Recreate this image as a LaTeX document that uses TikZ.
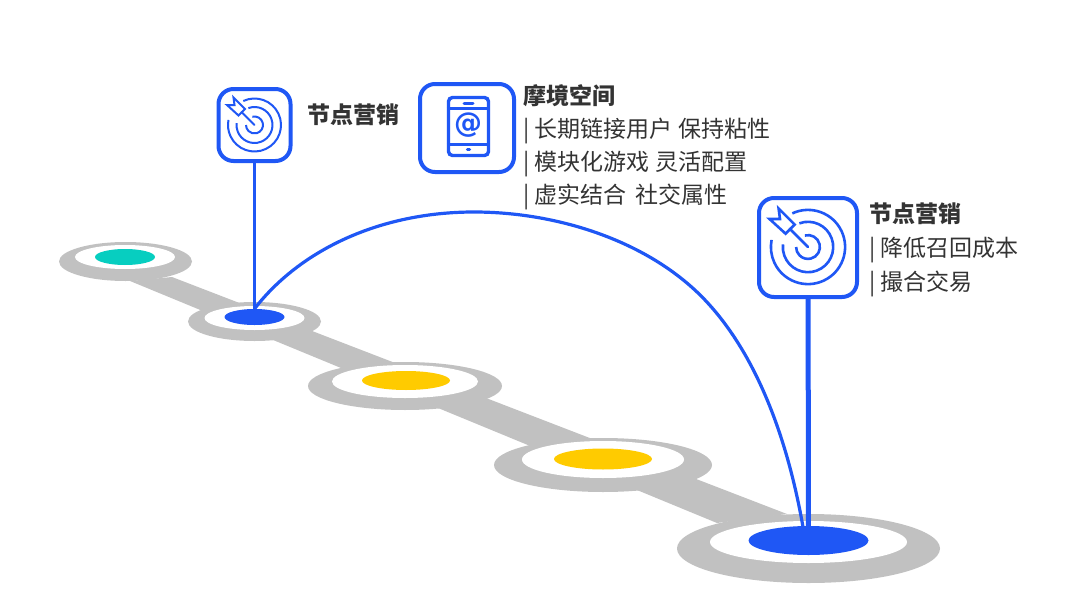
\documentclass[tikz,border=0pt]{standalone}
\usepackage{fontspec}
\setmainfont{Noto Sans CJK SC}
\newfontfamily\atfont{DejaVu Sans}
\usetikzlibrary{shapes.geometric}
\definecolor{roadgray}{HTML}{C1C1C1}
\definecolor{linkblue}{HTML}{1F57F5}
\definecolor{stopteal}{HTML}{07CEC0}
\definecolor{stopyellow}{HTML}{FFCB00}
\definecolor{textgray}{HTML}{333333}
\newcommand{\barmark}{|\hspace{5.5pt}}
\tikzset{
  stopnode/.style n args={3}{shape=ellipse,fill=#1,draw=none,inner sep=0,minimum width=#2pt,minimum height=#3pt},
  iconbox/.style={draw=linkblue,line width=4pt,rounded corners=15pt,fill=white,inner sep=0},
  link/.style={draw=linkblue,line width=3.2pt},
  label/.style={anchor=north west,inner sep=0,text=textgray,font=\fontsize{23}{33}\selectfont,align=left},
  pics/target/.style={code={
    \draw[linkblue,line width=#1] (245:26.5) arc[start angle=245,end angle=551,radius=26.5];
    \draw[linkblue,line width=#1] (250:18) arc[start angle=250,end angle=546,radius=18];
    \draw[linkblue,line width=#1] (255:8.5) arc[start angle=255,end angle=540,radius=8.5];
    \draw[linkblue,line width=#1,fill=white] (-21,-27.5) -- (-20,-20) -- (-27.5,-20) -- (-16,-9.5) -- (-9.5,-16) -- cycle;
    \draw[linkblue,line width=#1,line cap=round] (-13,-13) -- (0,0);
  }}
}
\begin{document}
\begin{tikzpicture}[x=1pt,y=-1pt]
  \useasboundingbox (0,0) rectangle (1080,608);

  \fill[roadgray] (130,281) -- (172,277) -- (787,514) -- (717,523) -- cycle;

  \node[stopnode={roadgray}{133}{39}] (ring1) at (125.5,261.5) {};
  \node[stopnode={white}{100}{24}] (pad1) at (125,257) {};
  \node[stopnode={stopteal}{60}{16}] (stop1) at (125,257) {};

  \node[stopnode={roadgray}{133}{39}] (ring2) at (254.5,321.5) {};
  \node[stopnode={white}{100}{24}] (pad2) at (254.5,318) {};
  \node[stopnode={linkblue}{60}{16}] (stop2) at (254.5,317) {};

  \node[stopnode={roadgray}{194}{48}] (ring3) at (405,386) {};
  \node[stopnode={white}{146}{33}] (pad3) at (405,381.5) {};
  \node[stopnode={stopyellow}{88}{19}] (stop3) at (406,380.5) {};

  \node[stopnode={roadgray}{218}{54}] (ring4) at (603,465) {};
  \node[stopnode={white}{162}{37}] (pad4) at (603,459.5) {};
  \node[stopnode={stopyellow}{98}{21}] (stop4) at (603,459) {};

  \node[stopnode={roadgray}{263}{69}] (ring5) at (808.5,548.5) {};
  \node[stopnode={white}{197}{42}] (pad5) at (808.5,542) {};
  \node[stopnode={linkblue}{120}{29}] (stop5) at (808.5,540.5) {};

  \node[iconbox,minimum width=72pt,minimum height=72pt] (box1) at (254.5,125) {};
  \node[iconbox,minimum width=94pt,minimum height=88pt] (box2) at (467,128) {};
  \node[iconbox,minimum width=98pt,minimum height=99pt] (box3) at (808,247.5) {};

  \pic at (254.5,125) {target=2pt};
  \pic[scale=1.4] at (808,247) {target=2.6pt};

  \node[draw=linkblue,line width=3.4pt,rounded corners=4pt,inner sep=0,minimum width=40pt,minimum height=58pt] (phone) at (468.5,126.5) {};
  \draw[linkblue,line width=3pt] (phone.west |- 0,108) -- (phone.east |- 0,108);
  \draw[linkblue,line width=3pt] (phone.west |- 0,144) -- (phone.east |- 0,144);
  \draw[linkblue,line width=3pt,line cap=round] (464,103) -- (473,103);
  \draw[linkblue,line width=3.5pt,line cap=round] (467.5,149.5) -- (469.5,149.5);
  \node[text=linkblue,inner sep=0,font=\atfont\fontsize{28}{28}\selectfont\bfseries] (atsign) at (468,125.5) {@};

  \node[label,font=\fontsize{23}{33}\selectfont\bfseries] (title1) at (307,104) {节点营销};
  \node[label] (text2) at (523,84) {\textbf{摩境空间}\\\barmark 长期链接用户 保持粘性\\\barmark 模块化游戏 灵活配置\\\barmark 虚实结合 \,社交属性};
  \node[label,font=\fontsize{23}{34}\selectfont] (text3) at (869,203) {\textbf{节点营销}\\\barmark 降低召回成本\\\barmark 撮合交易};

  \coordinate (arctop) at (474,212);
  \coordinate (arcside) at (705,300);
  \coordinate (arcend) at (803,527);
  \draw[link] (box1) -- (stop2);
  \draw[link,line width=5pt] (box3) -- (stop5);
  \draw[link] (stop2.north) .. controls (300,250) and (380,212) .. (arctop) .. controls (559,212) and (650,242) .. (arcside) .. controls (760,358) and (789,447) .. (arcend);
\end{tikzpicture}
\end{document}
